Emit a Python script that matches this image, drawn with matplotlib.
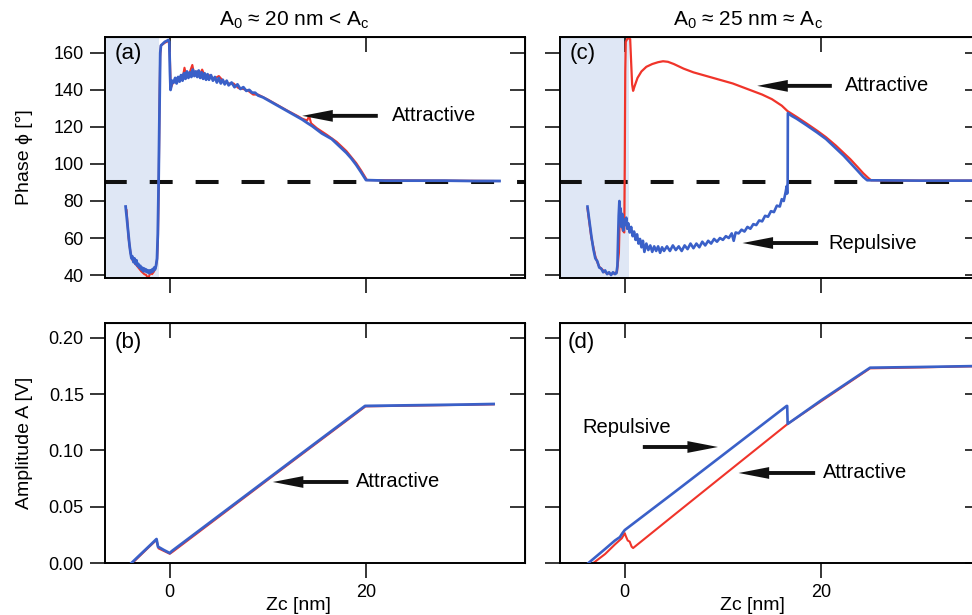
import numpy as np
import matplotlib.pyplot as plt

plt.rcParams['font.family'] = ['Liberation Sans', 'DejaVu Sans']
plt.rcParams['mathtext.fontset'] = 'custom'
plt.rcParams['mathtext.rm'] = 'Liberation Sans'

# ---- data ----
# (a) phase, A0 ~ 20 nm
pa_blue_x = [-4.5, -4.4, -4.25, -4.1, -4.0, -3.9, -3.8, -3.7, -3.6, -3.5, -3.4, -3.3, -3.2, -3.1,
             -3.0, -2.9, -2.8, -2.7, -2.6, -2.5, -2.4, -2.3, -2.2, -2.1, -2.0, -1.9, -1.8, -1.7,
             -1.6, -1.5, -1.4, -1.3, -1.22, -1.15, -1.08, -1.02, -0.97, -0.9, -0.7, -0.5, -0.3,
             -0.15, -0.05, 0.02, 0.08, 0.15, 0.25,
             0.4, 0.55, 0.7, 0.85, 1.0, 1.15, 1.3, 1.45, 1.6, 1.75, 1.9, 2.05, 2.2, 2.35, 2.5,
             2.65, 2.8, 2.95, 3.1, 3.25, 3.4, 3.55, 3.7, 3.85, 4.0, 4.2, 4.4, 4.6, 4.8, 5.0,
             5.2, 5.4, 5.6, 5.8, 6.0, 6.3, 6.6, 6.9, 7.2, 7.5, 7.8, 8.1, 8.4, 8.7, 9.0, 9.5,
             10, 10.5, 11, 11.5, 12, 12.5, 13, 13.5, 14, 14.5, 15, 15.5, 16, 16.5, 17, 17.5,
             18, 18.5, 19, 19.5, 20, 22, 25, 28, 31, 33.6]
pa_blue_y = [77, 72, 64, 56, 52, 49, 50, 47, 49, 46, 48, 45, 46, 44,
             45, 43, 44, 42, 43.5, 42, 43, 41.5, 42.5, 41, 42.5, 41.5, 43, 42,
             44, 43, 45, 49, 62, 85, 115, 140, 160, 164, 165, 166, 166.5,
             167, 166, 150, 140, 142, 145,
             144, 146.5, 143.5, 147, 144.5, 148, 145, 149, 146, 150, 146.5, 149.5, 147, 151, 147.5,
             150, 147, 150.5, 146.5, 149.5, 146, 149, 145.5, 148.5, 145.5, 148, 145, 147, 144, 146.5,
             143.5, 145.5, 143, 145, 142.5, 144, 141.5, 143, 140.5, 141.5, 139.5, 140, 138.5, 138.5, 137, 136,
             134.5, 133, 131.5, 130, 128.5, 127, 125.5, 124, 122.2, 120.5, 118.5, 116.5, 115, 113.5, 111, 108.5,
             106, 103, 99.5, 95.5, 91.3, 91, 91, 91, 90.8, 90.8]

pa_red_x = [-4.4, -4.2, -4.0, -3.8, -3.5, -3.2, -2.9, -2.6, -2.4, -2.2, -2.0, -1.8, -1.6, -1.45,
            -1.3, -1.2, -1.12, -1.05, -0.98, -0.9, -0.5, -0.1, 0.0, 0.1, 0.3, 0.6, 1.0, 1.3,
            1.5, 1.7, 2.0, 2.3, 2.5, 2.8, 3.0, 3.3, 3.6, 4.0, 4.5, 5.0, 5.5, 6.0, 6.5, 7.0,
            7.5, 8.0, 8.5, 9.0, 10, 11, 12, 13, 13.5, 14, 14.2, 14.4, 15, 16, 17, 18, 19,
            19.5, 20.1, 33.5]
pa_red_y = [75, 60, 52, 48, 46, 44, 42, 40.5, 40, 38, 41, 40.5, 42, 44,
            48, 60, 90, 130, 158, 164, 165.5, 166.5, 160, 141, 143.5, 145, 147, 146,
            152, 147, 149, 153.5, 148, 150, 147.5, 151, 147, 148, 146, 147.5, 144.5, 143.5, 143.5, 141,
            140.5, 139.5, 137.5, 137.5, 134.8, 131.8, 128.8, 126, 124.5, 123.5, 126, 122, 119.3, 115.8, 112, 107, 100.5,
            96.5, 91.3, 90.8]

# (c) phase, A0 ~ 25 nm
pc_red_x = [-3.8, -3.6, -3.4, -3.2, -3.0, -2.8, -2.6, -2.3, -2.0, -1.7, -1.4, -1.1, -0.8, -0.6,
            -0.5, -0.35, -0.2, -0.05, 0.0, 0.05, 0.1, 0.3, 0.55, 0.65, 0.75, 0.85, 1.0, 1.3,
            1.7, 2.2, 2.8, 3.4, 3.9, 4.4, 5.0, 6.0, 7.0, 8.0, 9.0, 10, 11, 12, 13, 14, 15,
            16, 16.6, 17.5, 18.5, 19.6, 20.5, 21.5, 22.3, 23.0, 23.7, 24.3, 24.8, 25.1, 30, 36]
pc_red_y = [76, 68, 60, 55, 50, 47, 44.5, 43, 41.5, 41, 40.5, 41, 41.5, 52,
            75, 68, 64, 63, 100, 150, 166, 168, 167.5, 155, 143, 139.5, 142, 146.5,
            150, 152.5, 154, 155, 155.5, 155.2, 154, 151.5, 149.5, 148, 146.5, 145, 143.5, 141.5, 139.5, 137.5, 135,
            131.5, 128.5, 125.5, 122, 118, 114.5, 110, 106, 102.5, 98.5, 95, 92.5, 91.2, 91.0, 91.0]

pc_blue_x = [-3.8, -3.6, -3.4, -3.2, -3.0, -2.8, -2.6, -2.4, -2.2, -2.0, -1.8, -1.6, -1.4, -1.2,
             -1.0, -0.85, -0.75, -0.68, -0.62, -0.55, -0.48, -0.42, -0.35, -0.25, -0.15, -0.05,
             0.05, 0.15, 0.25, 0.35, 0.5, 0.65, 0.8, 0.95, 1.1, 1.25, 1.4, 1.55, 1.7, 1.85, 2.0,
             2.2, 2.4, 2.6, 2.8, 3.0, 3.2, 3.4, 3.6, 3.8, 4.0, 4.3, 4.6, 4.9, 5.2, 5.5, 5.8,
             6.1, 6.4, 6.7, 7.0, 7.3, 7.6, 7.9, 8.2, 8.5, 8.8, 9.1, 9.4, 9.7, 10.0, 10.3, 10.6,
             10.9, 11.1, 11.3, 11.6, 11.9, 12.2, 12.5, 12.8, 13.1, 13.4, 13.7, 14.0, 14.3, 14.6,
             14.9, 15.2, 15.5, 15.8, 16.0, 16.2, 16.4, 16.5, 16.55, 16.6, 16.62, 17.0, 17.5,
             18.5, 19.6, 20.5, 21.5, 22.3, 23.0, 23.7, 24.3, 24.7, 30, 36]
pc_blue_y = [77, 69, 61, 54, 49, 47.5, 44, 43.5, 41.5, 42.5, 40.5, 41.5, 40, 41.5,
             40.5, 41, 45, 60, 72, 80, 70, 76, 66, 73, 64, 70,
             67, 71, 65, 68, 63, 66, 61, 63.5, 59, 62, 57, 59.5, 55, 58.5, 52.5,
             57, 53.5, 56, 52.5, 55.5, 53, 55.5, 52, 55, 53, 55.5, 53, 56, 53.5, 55.5, 53,
             56, 54, 57, 54.5, 57, 55, 58, 56, 58.5, 57, 59.5, 58, 60, 59, 61, 60,
             62.5, 58.5, 63, 62.5, 64.5, 63.5, 66, 65, 67.5, 67, 69.5, 69, 72, 71.5,
             74.5, 74, 77.5, 77, 81, 80, 85, 88, 84, 90, 127.5, 126, 124.5,
             121, 117, 113.5, 108.5, 104.5, 100.5, 96.5, 93, 91.2, 91, 91]

# (b) amplitude, A0 ~ 20 nm
pb_blue_x = [-3.9, -3.0, -2.0, -1.35, -1.2, -0.6, 0.0, 0.2, 5.0, 10.0, 15.0, 19.9, 25, 30, 33]
pb_blue_y = [0.0, 0.0075, 0.0158, 0.0213, 0.0145, 0.0115, 0.0088, 0.0105, 0.0420, 0.0748,
             0.1076, 0.1396, 0.1402, 0.1408, 0.1413]
pb_red_x = [-3.8, -2.0, -1.35, -1.15, 0.0, 0.3, 10.0, 19.95, 33]
pb_red_y = [0.0, 0.0152, 0.0205, 0.0130, 0.0082, 0.0100, 0.0740, 0.1392, 0.1410]

# (d) amplitude, A0 ~ 25 nm
pd_blue_x = [-3.7, -2.0, -1.0, -0.5, -0.2, 0.0, 5.0, 10.0, 16.5, 16.55, 16.6, 20.0, 25.0, 30.0, 35.5]
pd_blue_y = [0.0, 0.0125, 0.020, 0.023, 0.027, 0.0293, 0.0625, 0.0960, 0.1396, 0.1396, 0.1236,
             0.1445, 0.1736, 0.1742, 0.1750]
pd_red_x = [-3.2, -2.0, -1.0, -0.3, 0.0, 0.1, 0.3, 0.5, 0.7, 0.85, 5.0, 10.0, 16.6, 20.0, 25.0,
            30.0, 35.5]
pd_red_y = [0.0, 0.008, 0.0165, 0.022, 0.0265, 0.024, 0.020, 0.019, 0.0145, 0.0133, 0.0425,
            0.0775, 0.1236, 0.1437, 0.1730, 0.1738, 0.1748]

phase_ticks = [40, 60, 80, 100, 120, 140, 160]
amp_ticks = [0.00, 0.05, 0.10, 0.15, 0.20]
z_ticks = [0, 20]

BLUE = '#3a60c8'
RED = '#f0342a'
SHADE = '#dfe7f5'
tick_len = 10.8

fig = plt.figure(figsize=(9.72, 6.15), dpi=100)
W, H = 972.0, 615.0


def make_ax(left, top, width, height):
    return fig.add_axes([left / W, 1 - (top + height) / H, width / W, height / H])


ax_a = make_ax(105, 37, 420, 241)
ax_c = make_ax(560, 37, 420, 241)
ax_b = make_ax(105, 323, 420, 240)
ax_d = make_ax(560, 323, 420, 240)


def style(ax, yticks, ylim, ylabels, xlabels):
    ax.set_xlim(-6.6, 36.2)
    ax.set_ylim(*ylim)
    ax.set_xticks(z_ticks)
    ax.set_yticks(yticks)
    for s in ax.spines.values():
        s.set_linewidth(1.4)
    ax.tick_params(direction='out', length=tick_len, width=1.1, labelsize=13, pad=4.5,
                   top=False, right=False)
    if not ylabels:
        ax.set_yticklabels([])
    if not xlabels:
        ax.set_xticklabels([])
    # mirrored ticks on top/right, both pointing the same way as Igor draws them
    sx = ax.secondary_xaxis('top')
    sx.set_xticks(z_ticks)
    sx.set_xticklabels([])
    sx.tick_params(direction='in', length=tick_len, width=1.1)
    sy = ax.secondary_yaxis('right')
    sy.set_yticks(yticks)
    sy.set_yticklabels([])
    sy.tick_params(direction='in', length=tick_len, width=1.1)


def arrow(ax, tail, tip, y):
    ax.annotate('', xy=(tip, y), xytext=(tail, y),
                arrowprops=dict(width=2.8, headwidth=8.5, headlength=22, shrink=0,
                                facecolor='#111111', edgecolor='none'))


# ---- top row: phase ----
for ax in (ax_a, ax_c):
    ax.axhline(90, color='#111111', lw=2.9, ls=(0.3, (5.7, 5.7)), zorder=1)

ax_a.axvspan(-6.6, -1.1, color=SHADE, lw=0, zorder=0)
ax_a.plot(pa_red_x, pa_red_y, color=RED, lw=1.5, zorder=2)
ax_a.plot(pa_blue_x, pa_blue_y, color=BLUE, lw=2.0, zorder=3)
style(ax_a, phase_ticks, (38.4, 168.6), True, False)
ax_a.set_ylabel('Phase \u03d5 [\u00b0]', fontsize=14)
ax_a.yaxis.set_label_coords(-0.172, 0.5)
arrow(ax_a, 21.2, 13.5, 126)
ax_a.text(22.65, 126, 'Attractive', fontsize=14.5, ha='left', va='center')
ax_a.text(0.024, 0.93, '(a)', transform=ax_a.transAxes, fontsize=16, ha='left', va='center')
ax_a.text(0.45, 1.07, r'A$_\mathrm{0}$ ' + '\u2248 20 nm < ' + r'A$_\mathrm{c}$',
          transform=ax_a.transAxes, fontsize=15, ha='center', va='center')

ax_c.axvspan(-6.6, 0.4, color=SHADE, lw=0, zorder=0)
ax_c.plot(pc_red_x, pc_red_y, color=RED, lw=1.6, zorder=2)
ax_c.plot(pc_blue_x, pc_blue_y, color=BLUE, lw=1.9, zorder=3)
style(ax_c, phase_ticks, (38.4, 168.6), False, False)
arrow(ax_c, 21.1, 13.5, 142.2)
ax_c.text(22.4, 142.2, 'Attractive', fontsize=14.5, ha='left', va='center')
arrow(ax_c, 19.7, 12.0, 57.3)
ax_c.text(20.7, 57.3, 'Repulsive', fontsize=14.5, ha='left', va='center')
ax_c.text(0.024, 0.93, '(c)', transform=ax_c.transAxes, fontsize=16, ha='left', va='center')
ax_c.text(0.448, 1.07, r'A$_\mathrm{0}$ ' + '\u2248 25 nm \u2248 ' + r'A$_\mathrm{c}$',
          transform=ax_c.transAxes, fontsize=15, ha='center', va='center')

# ---- bottom row: amplitude ----
ax_b.plot(pb_red_x, pb_red_y, color=RED, lw=1.5, zorder=2)
ax_b.plot(pb_blue_x, pb_blue_y, color=BLUE, lw=2.0, zorder=3)
style(ax_b, amp_ticks, (0, 0.2133), True, True)
ax_b.set_yticklabels(['%.2f' % v for v in amp_ticks])
ax_b.set_ylabel('Amplitude A [V]', fontsize=14)
ax_b.yaxis.set_label_coords(-0.172, 0.5)
ax_b.set_xlabel('Zc [nm]', fontsize=14, labelpad=1)
ax_b.xaxis.set_label_coords(0.46, -0.143)
arrow(ax_b, 18.2, 10.5, 0.072)
ax_b.text(19.0, 0.072, 'Attractive', fontsize=14.5, ha='left', va='center')
ax_b.text(0.024, 0.917, '(b)', transform=ax_b.transAxes, fontsize=16, ha='left', va='center')

ax_d.plot(pd_red_x, pd_red_y, color=RED, lw=1.5, zorder=2)
ax_d.plot(pd_blue_x, pd_blue_y, color=BLUE, lw=1.9, zorder=3)
style(ax_d, amp_ticks, (0, 0.2133), False, True)
ax_d.set_xlabel('Zc [nm]', fontsize=14, labelpad=1)
ax_d.xaxis.set_label_coords(0.457, -0.143)
ax_d.text(-4.3, 0.12, 'Repulsive', fontsize=14.5, ha='left', va='center')
arrow(ax_d, 1.84, 9.5, 0.1031)
arrow(ax_d, 19.4, 11.6, 0.080)
ax_d.text(20.2, 0.080, 'Attractive', fontsize=14.5, ha='left', va='center')
ax_d.text(0.019, 0.917, '(d)', transform=ax_d.transAxes, fontsize=16, ha='left', va='center')

fig.savefig('out.png', dpi=100)
